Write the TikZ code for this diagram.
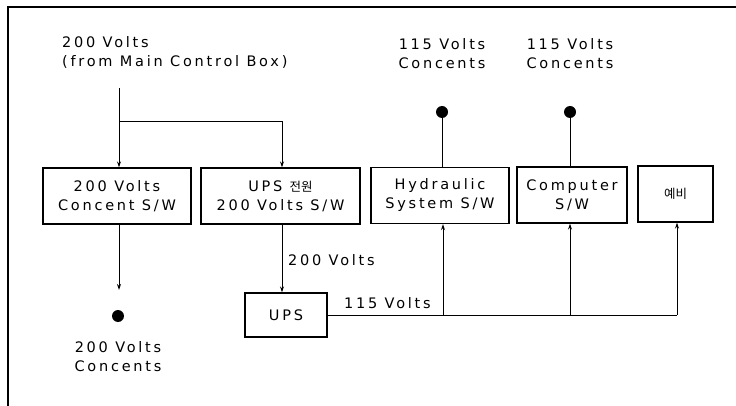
\documentclass[tikz,border=0pt]{standalone}
\usepackage{fontspec}
\setmainfont{DejaVu Sans}[LetterSpace=19]
\newfontfamily\kor{Noto Sans CJK KR}
\usetikzlibrary{arrows.meta}
\tikzset{
  box/.style={draw, line width=1.3pt, minimum height=56pt, inner sep=0pt, align=center, font=\fontsize{14.5}{19}\selectfont},
  lbl/.style={inner sep=0pt, align=center, font=\fontsize{14.5}{19}\selectfont},
  wire/.style={line width=1pt},
  arr/.style={wire, -{Stealth[length=6pt,width=4pt]}},
  outlet/.style={circle, fill=black, minimum size=12pt, inner sep=0pt},
  frame/.style={line width=1.8pt}
}
\newcommand{\hangul}[1]{{\kor\fontsize{12.5}{19}\selectfont #1}}
\begin{document}
\begin{tikzpicture}[x=1pt,y=-1pt]
\useasboundingbox (0,0) rectangle (736,406);
% drawing frame (top and left edges)
\draw[frame] (736,7) -- (8,7) -- (8,406);

% switch boxes
\node[box, minimum width=148pt] (b1) at (117,196) {200 Volts\\Concent S/W};
\node[box, minimum width=159pt] (b2) at (280.5,196) {UPS \hangul{전원}\\200 Volts S/W};
\node[box, minimum width=138pt] (b3) at (440,195.5) {Hydraulic\\System S/W};
\node[box, minimum width=110pt] (b4) at (572,195) {Computer\\S/W};
\node[box, minimum width=75pt] (b5) at (675.5,194) {\hangul{예비}};
\node[box, minimum width=82pt, minimum height=44pt] (ups) at (286,315) {UPS};

% outlets
\node[outlet] (d1) at (118,316) {};
\node[outlet] (d3) at (442,112) {};
\node[outlet] (d4) at (570,112) {};

% labels
\node[lbl, anchor=north west, align=left] (src) at (62,36) {200 Volts\\(from Main Control Box)};
\node[lbl] (l3) at (442,54) {115 Volts\\Concents};
\node[lbl] (l4) at (570,54) {115 Volts\\Concents};
\node[lbl] (l1) at (118,357) {200 Volts\\Concents};
\node[lbl, anchor=west] (v200) at (288,260) {200 Volts};
\node[lbl, anchor=south west] (v115) at (344,309) {115 Volts};

% main feed and branch
\coordinate (s0) at (119,88);
\coordinate (j1) at (119,122);
\coordinate (j2) at (282,122);
\draw[arr] (s0) -- (s0 |- b1.north);
\draw[arr] (j1) -- (j2) -- (j2 |- b2.north);

% 200 V outputs
\coordinate (a1) at (119,290);
\draw[arr] (a1 |- b1.south) -- (a1);
\draw[arr] (j2 |- b2.south) -- (j2 |- ups.north);

% 115 V distribution from UPS
\coordinate (r3) at (443,315);
\coordinate (r4) at (570,315);
\coordinate (r5) at (677,315);
\draw[wire] (ups.east |- r3) -- (r5);
\draw[arr] (r3) -- (r3 |- b3.south);
\draw[arr] (r4) -- (r4 |- b4.south);
\draw[arr] (r5) -- (r5 |- b5.south);

% outlet drops
\draw[wire] (d3) -- (d3 |- b3.north);
\draw[wire] (d4) -- (d4 |- b4.north);
\end{tikzpicture}
\end{document}
